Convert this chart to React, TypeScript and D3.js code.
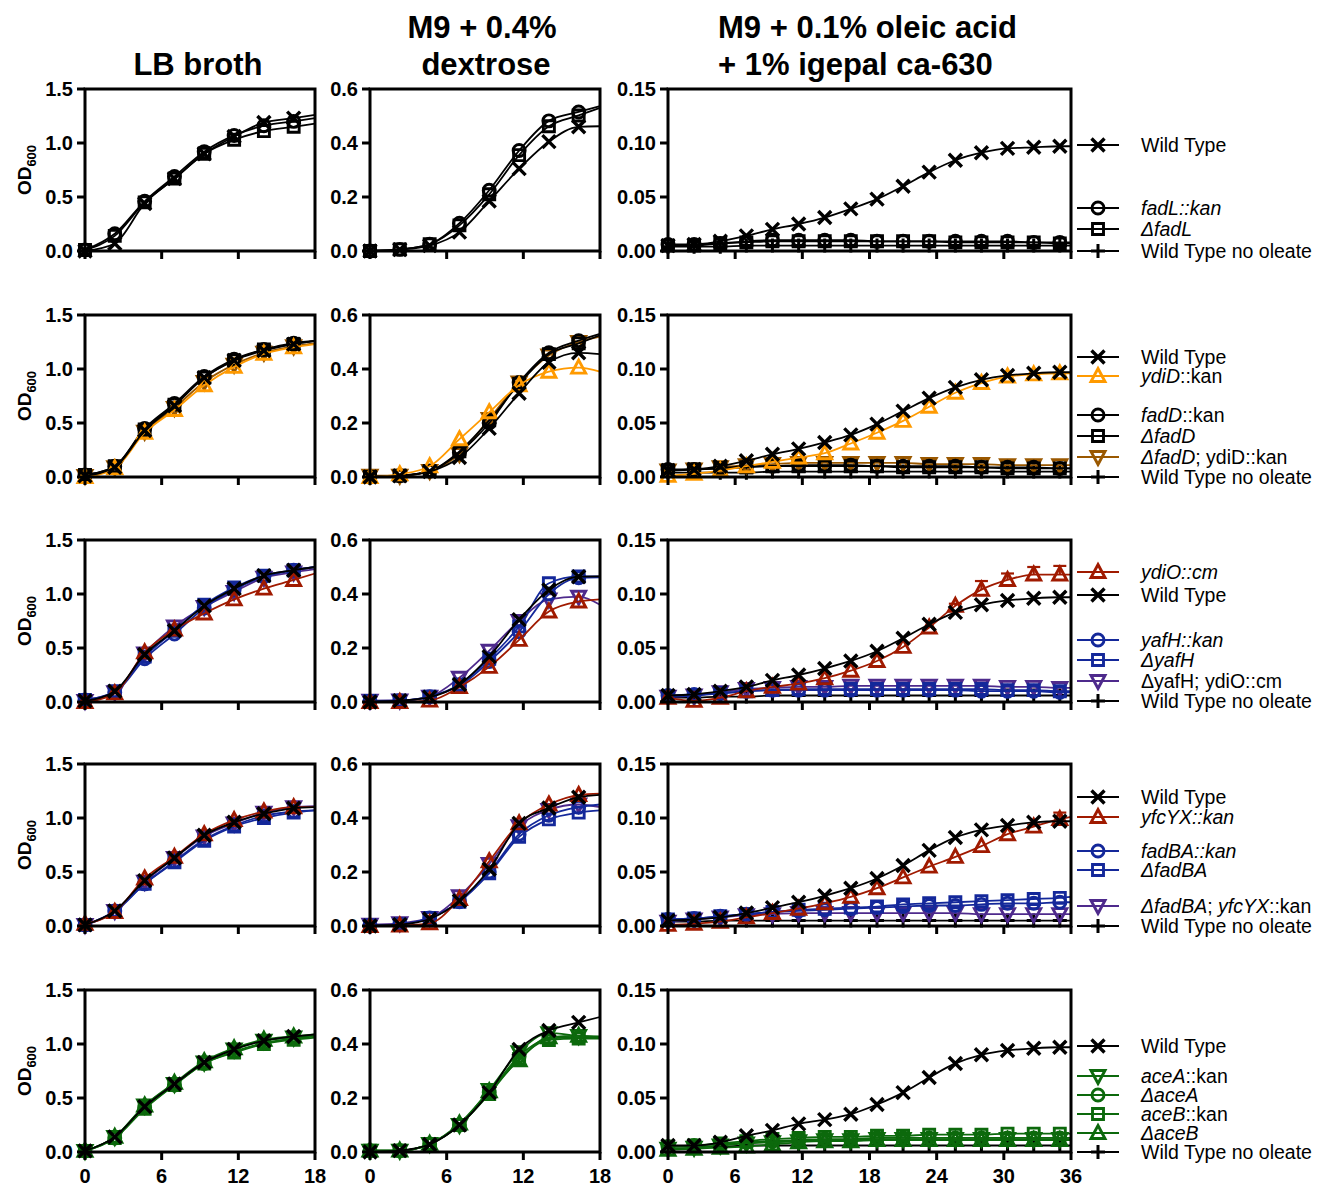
import React from "react";
import * as d3 from "d3";

// ---------- time points (hours) ----------
const hoursShort = [0, 2.33, 4.67, 7, 9.33, 11.67, 14, 16.33];
const hoursLong = [0, 2.33, 4.67, 7, 9.33, 11.67, 14, 16.33, 18.67, 21, 23.33, 25.67, 28, 30.33, 32.67, 35];
// Each series: one value per time point, followed by the fitted curve's value at the axis end.

// ---------- column settings ----------
const colXMax = [18, 18, 36];
const colXTicks = [[0, 6, 12, 18], [0, 6, 12, 18], [0, 6, 12, 18, 24, 30, 36]];
const colYMax = [1.5, 0.6, 0.15];
const colYTicks = [[0, 0.5, 1.0, 1.5], [0, 0.2, 0.4, 0.6], [0, 0.05, 0.1, 0.15]];
const colYFormat = [".1f", ".1f", ".2f"];

// ---------- colours ----------
const BLACK = "#000000";
const ORANGE = "#FF9A00";
const BROWN = "#9A5800";
const RED = "#A01A00";
const BLUE = "#14289A";
const PURPLE = "#4E2A8C";
const GREEN = "#0C690C";

// ---------- series definitions ----------
const row1Series = [
  { key: "wt", label: "Wild Type", color: BLACK, marker: "x" },
  { key: "fadL", label: "*fadL::kan*", color: BLACK, marker: "circle" },
  { key: "dfadL", label: "*ΔfadL*", color: BLACK, marker: "square" },
  { key: "wtNo", label: "Wild Type no oleate", color: BLACK, marker: "plus" },
];
const row2Series = [
  { key: "wt", label: "Wild Type", color: BLACK, marker: "x" },
  { key: "ydiD", label: "*ydiD*::kan", color: ORANGE, marker: "triangle" },
  { key: "fadD", label: "*fadD*::kan", color: BLACK, marker: "circle" },
  { key: "dfadD", label: "*ΔfadD*", color: BLACK, marker: "square" },
  { key: "dfadDydiD", label: "*ΔfadD*; ydiD::kan", color: BROWN, marker: "invTriangle" },
  { key: "wtNo", label: "Wild Type no oleate", color: BLACK, marker: "plus" },
];
const row3Series = [
  { key: "ydiO", label: "*ydiO::cm*", color: RED, marker: "triangle" },
  { key: "wt", label: "Wild Type", color: BLACK, marker: "x" },
  { key: "yafH", label: "*yafH::kan*", color: BLUE, marker: "circle" },
  { key: "dyafH", label: "*ΔyafH*", color: BLUE, marker: "square" },
  { key: "dyafHydiO", label: "ΔyafH; ydiO::cm", color: PURPLE, marker: "invTriangle" },
  { key: "wtNo", label: "Wild Type no oleate", color: BLACK, marker: "plus" },
];
const row4Series = [
  { key: "wt", label: "Wild Type", color: BLACK, marker: "x" },
  { key: "yfcYX", label: "*yfcYX::kan*", color: RED, marker: "triangle" },
  { key: "fadBA", label: "*fadBA::kan*", color: BLUE, marker: "circle" },
  { key: "dfadBA", label: "*ΔfadBA*", color: BLUE, marker: "square" },
  { key: "dfadBAyfcYX", label: "*ΔfadBA*; *yfcYX*::kan", color: PURPLE, marker: "invTriangle" },
  { key: "wtNo", label: "Wild Type no oleate", color: BLACK, marker: "plus" },
];
const row5Series = [
  { key: "wt", label: "Wild Type", color: BLACK, marker: "x" },
  { key: "aceA", label: "*aceA*::kan", color: GREEN, marker: "invTriangle" },
  { key: "daceA", label: "*ΔaceA*", color: GREEN, marker: "circle" },
  { key: "aceB", label: "*aceB*::kan", color: GREEN, marker: "square" },
  { key: "daceB", label: "*ΔaceB*", color: GREEN, marker: "triangle" },
  { key: "wtNo", label: "Wild Type no oleate", color: BLACK, marker: "plus" },
];

// ---------- row 1 ----------
const lb1 = {
  wt: [0.0, 0.07, 0.44, 0.67, 0.9, 1.06, 1.19, 1.23, 1.26],
  fadL: [0.01, 0.16, 0.46, 0.69, 0.92, 1.07, 1.16, 1.2, 1.23],
  dfadL: [0.01, 0.14, 0.45, 0.67, 0.9, 1.03, 1.11, 1.15, 1.18],
};
const dex1 = {
  wt: [0.0, 0.005, 0.02, 0.07, 0.185, 0.305, 0.405, 0.46, 0.462],
  fadL: [0.0, 0.006, 0.025, 0.103, 0.225, 0.372, 0.482, 0.515, 0.537],
  dfadL: [0.0, 0.006, 0.025, 0.095, 0.21, 0.355, 0.462, 0.502, 0.53],
};
const ole1 = {
  wt: [0.005, 0.006, 0.009, 0.014, 0.02, 0.025, 0.031, 0.039, 0.048, 0.06, 0.073, 0.084, 0.091, 0.095, 0.096, 0.097, 0.097],
  fadL: [0.006, 0.006, 0.007, 0.009, 0.01, 0.01, 0.01, 0.01, 0.009, 0.009, 0.009, 0.009, 0.009, 0.009, 0.008, 0.008, 0.008],
  dfadL: [0.005, 0.005, 0.007, 0.008, 0.009, 0.009, 0.009, 0.009, 0.009, 0.009, 0.009, 0.008, 0.008, 0.008, 0.008, 0.007, 0.007],
  wtNo: [0.004, 0.004, 0.004, 0.005, 0.005, 0.005, 0.005, 0.005, 0.005, 0.005, 0.005, 0.005, 0.005, 0.005, 0.005, 0.005, 0.005],
};

// ---------- row 2 ----------
const lb2 = {
  wt: [0.01, 0.09, 0.43, 0.66, 0.92, 1.08, 1.17, 1.23, 1.26],
  ydiD: [0.0, 0.08, 0.41, 0.62, 0.85, 1.02, 1.14, 1.2, 1.23],
  fadD: [0.02, 0.1, 0.45, 0.68, 0.93, 1.09, 1.18, 1.24, 1.26],
  dfadD: [0.02, 0.1, 0.44, 0.67, 0.92, 1.08, 1.18, 1.23, 1.26],
  dfadDydiD: [0.01, 0.09, 0.42, 0.64, 0.88, 1.04, 1.15, 1.21, 1.24],
};
const dex2 = {
  wt: [0.0, 0.004, 0.02, 0.072, 0.18, 0.31, 0.425, 0.46, 0.455],
  ydiD: [0.0, 0.01, 0.04, 0.14, 0.24, 0.34, 0.39, 0.405, 0.39],
  fadD: [0.0, 0.005, 0.022, 0.09, 0.2, 0.35, 0.46, 0.505, 0.53],
  dfadD: [0.0, 0.005, 0.022, 0.095, 0.21, 0.345, 0.455, 0.495, 0.525],
  dfadDydiD: [0.005, 0.005, 0.022, 0.085, 0.215, 0.35, 0.45, 0.5, 0.52],
};
const ole2 = {
  wt: [0.006, 0.007, 0.01, 0.015, 0.021, 0.026, 0.032, 0.039, 0.049, 0.061, 0.073, 0.083, 0.09, 0.094, 0.096, 0.097, 0.097],
  ydiD: [0.001, 0.003, 0.006, 0.01, 0.014, 0.018, 0.022, 0.031, 0.041, 0.052, 0.065, 0.078, 0.087, 0.093, 0.095, 0.096, 0.096],
  fadD: [0.007, 0.007, 0.008, 0.01, 0.01, 0.011, 0.011, 0.011, 0.01, 0.01, 0.01, 0.01, 0.009, 0.009, 0.009, 0.008, 0.008],
  dfadD: [0.006, 0.007, 0.008, 0.009, 0.01, 0.01, 0.01, 0.01, 0.01, 0.009, 0.009, 0.009, 0.009, 0.008, 0.008, 0.008, 0.008],
  dfadDydiD: [0.006, 0.007, 0.009, 0.011, 0.012, 0.013, 0.013, 0.013, 0.013, 0.013, 0.012, 0.012, 0.012, 0.011, 0.011, 0.011, 0.011],
  wtNo: [0.004, 0.004, 0.004, 0.004, 0.005, 0.005, 0.005, 0.005, 0.005, 0.005, 0.005, 0.005, 0.005, 0.005, 0.005, 0.005, 0.005],
};

// ---------- row 3 ----------
const lb3 = {
  ydiO: [0.0, 0.08, 0.46, 0.67, 0.82, 0.95, 1.05, 1.13, 1.19],
  wt: [0.01, 0.1, 0.44, 0.66, 0.89, 1.05, 1.17, 1.22, 1.25],
  yafH: [0.02, 0.09, 0.4, 0.63, 0.87, 1.04, 1.16, 1.22, 1.25],
  dyafH: [0.02, 0.1, 0.42, 0.66, 0.9, 1.06, 1.17, 1.22, 1.25],
  dyafHydiO: [0.01, 0.09, 0.45, 0.7, 0.88, 1.02, 1.15, 1.2, 1.23],
};
const dex3 = {
  ydiO: [0.0, 0.0, 0.005, 0.055, 0.13, 0.23, 0.335, 0.372, 0.38],
  wt: [0.0, 0.005, 0.018, 0.065, 0.168, 0.305, 0.415, 0.464, 0.465],
  yafH: [0.002, 0.005, 0.02, 0.06, 0.15, 0.26, 0.4, 0.46, 0.462],
  dyafH: [0.004, 0.005, 0.02, 0.065, 0.16, 0.28, 0.44, 0.465, 0.465],
  dyafHydiO: [0.005, 0.006, 0.02, 0.09, 0.19, 0.3, 0.38, 0.39, 0.36],
};
const ole3 = {
  ydiO: [0.004, 0.001, 0.004, 0.01, 0.014, 0.017, 0.022, 0.029, 0.038, 0.051, 0.069, 0.089, 0.104, 0.113, 0.118, 0.118, 0.118],
  wt: [0.006, 0.007, 0.01, 0.014, 0.02, 0.025, 0.031, 0.038, 0.047, 0.059, 0.072, 0.083, 0.09, 0.094, 0.096, 0.097, 0.097],
  yafH: [0.006, 0.007, 0.008, 0.01, 0.011, 0.011, 0.011, 0.011, 0.011, 0.011, 0.011, 0.011, 0.01, 0.01, 0.01, 0.009, 0.009],
  dyafH: [0.005, 0.006, 0.008, 0.01, 0.011, 0.012, 0.012, 0.012, 0.012, 0.012, 0.012, 0.012, 0.012, 0.011, 0.011, 0.01, 0.01],
  dyafHydiO: [0.005, 0.006, 0.009, 0.012, 0.013, 0.014, 0.014, 0.015, 0.015, 0.015, 0.015, 0.015, 0.015, 0.014, 0.014, 0.013, 0.013],
  wtNo: [0.004, 0.004, 0.005, 0.005, 0.006, 0.006, 0.006, 0.006, 0.006, 0.006, 0.006, 0.006, 0.006, 0.006, 0.006, 0.006, 0.006],
};
const ole3Err = {
  ydiO: [0, 0, 0, 0, 0, 0, 0, 0, 0, 0, 0, 0.002, 0.008, 0.006, 0.007, 0.008],
};

// ---------- row 4 ----------
const lb4 = {
  wt: [0.01, 0.14, 0.42, 0.63, 0.84, 0.96, 1.04, 1.09, 1.1],
  yfcYX: [0.02, 0.13, 0.44, 0.64, 0.85, 0.98, 1.06, 1.1, 1.1],
  fadBA: [0.01, 0.14, 0.39, 0.6, 0.8, 0.93, 1.02, 1.06, 1.07],
  dfadBA: [0.01, 0.13, 0.39, 0.59, 0.79, 0.92, 1.0, 1.05, 1.07],
  dfadBAyfcYX: [0.01, 0.14, 0.41, 0.63, 0.83, 0.95, 1.05, 1.1, 1.11],
};
const dex4 = {
  wt: [0.0, 0.005, 0.026, 0.093, 0.21, 0.38, 0.437, 0.477, 0.486],
  yfcYX: [0.0, 0.002, 0.01, 0.1, 0.24, 0.38, 0.45, 0.485, 0.49],
  fadBA: [0.002, 0.006, 0.03, 0.09, 0.2, 0.34, 0.41, 0.44, 0.45],
  dfadBA: [0.002, 0.006, 0.03, 0.09, 0.195, 0.33, 0.395, 0.42, 0.428],
  dfadBAyfcYX: [0.005, 0.01, 0.03, 0.11, 0.23, 0.37, 0.43, 0.45, 0.44],
};
const ole4 = {
  wt: [0.005, 0.006, 0.008, 0.012, 0.017, 0.022, 0.028, 0.035, 0.044, 0.056, 0.07, 0.082, 0.089, 0.093, 0.096, 0.097, 0.097],
  yfcYX: [0.001, 0.002, 0.004, 0.008, 0.012, 0.016, 0.021, 0.027, 0.035, 0.045, 0.055, 0.064, 0.074, 0.085, 0.092, 0.099, 0.101],
  fadBA: [0.006, 0.007, 0.009, 0.011, 0.013, 0.014, 0.015, 0.016, 0.017, 0.018, 0.019, 0.019, 0.02, 0.021, 0.021, 0.022, 0.022],
  dfadBA: [0.006, 0.007, 0.009, 0.011, 0.013, 0.015, 0.016, 0.017, 0.018, 0.02, 0.021, 0.022, 0.023, 0.024, 0.025, 0.026, 0.027],
  dfadBAyfcYX: [0.004, 0.006, 0.008, 0.01, 0.011, 0.012, 0.012, 0.012, 0.012, 0.012, 0.012, 0.012, 0.011, 0.011, 0.011, 0.011, 0.011],
  wtNo: [0.004, 0.004, 0.005, 0.005, 0.005, 0.005, 0.005, 0.005, 0.005, 0.005, 0.005, 0.005, 0.005, 0.005, 0.005, 0.005, 0.005],
};
const ole4Err = {
  yfcYX: [0, 0, 0, 0, 0, 0, 0, 0, 0, 0, 0, 0, 0, 0, 0.002, 0.006],
};

// ---------- row 5 ----------
const lb5 = {
  wt: [0.01, 0.14, 0.42, 0.63, 0.83, 0.95, 1.03, 1.07, 1.09],
  aceA: [0.01, 0.14, 0.43, 0.63, 0.83, 0.95, 1.03, 1.06, 1.08],
  daceA: [0.01, 0.13, 0.41, 0.62, 0.82, 0.93, 1.01, 1.05, 1.07],
  aceB: [0.01, 0.13, 0.4, 0.62, 0.82, 0.92, 1.0, 1.04, 1.06],
  daceB: [0.01, 0.14, 0.43, 0.64, 0.84, 0.96, 1.04, 1.07, 1.09],
};
const dex5 = {
  wt: [0.0, 0.005, 0.028, 0.1, 0.22, 0.38, 0.45, 0.48, 0.5],
  aceA: [0.005, 0.005, 0.03, 0.1, 0.23, 0.37, 0.44, 0.43, 0.425],
  daceA: [0.005, 0.005, 0.03, 0.1, 0.22, 0.355, 0.42, 0.425, 0.425],
  aceB: [0.005, 0.005, 0.03, 0.1, 0.215, 0.345, 0.415, 0.42, 0.42],
  daceB: [0.005, 0.005, 0.03, 0.105, 0.225, 0.34, 0.425, 0.43, 0.428],
};
const ole5 = {
  wt: [0.006, 0.006, 0.009, 0.015, 0.02, 0.026, 0.03, 0.035, 0.044, 0.055, 0.069, 0.082, 0.09, 0.094, 0.096, 0.097, 0.097],
  aceA: [0.003, 0.004, 0.006, 0.008, 0.009, 0.01, 0.011, 0.011, 0.012, 0.012, 0.012, 0.012, 0.012, 0.012, 0.012, 0.012, 0.012],
  daceA: [0.005, 0.006, 0.007, 0.009, 0.01, 0.011, 0.012, 0.012, 0.013, 0.013, 0.013, 0.013, 0.013, 0.013, 0.013, 0.013, 0.013],
  aceB: [0.005, 0.006, 0.008, 0.01, 0.012, 0.013, 0.014, 0.014, 0.015, 0.015, 0.016, 0.016, 0.016, 0.017, 0.017, 0.017, 0.017],
  daceB: [0.002, 0.003, 0.004, 0.005, 0.007, 0.009, 0.01, 0.01, 0.011, 0.011, 0.011, 0.011, 0.011, 0.011, 0.011, 0.011, 0.011],
  wtNo: [0.005, 0.005, 0.005, 0.006, 0.006, 0.006, 0.006, 0.006, 0.006, 0.006, 0.006, 0.006, 0.006, 0.006, 0.006, 0.006, 0.006],
};

// ---------- layout (pixels) ----------
const colRange = [[85, 315], [370, 600], [668, 1071]];
const rowTops = [89, 315, 540, 764, 990];
const PANEL_H = 162;
// legend entry heights above each row's bottom edge
const legendOffsets = [
  [106, 43, 22, 0],
  [120, 101, 62, 41, 20, 0],
  [130, 107, 62, 42, 21, 1],
  [129, 109, 75, 56, 20, 0],
  [106, 76, 57, 38, 19, 0],
];

const rows = [
  { series: row1Series, data: [lb1, dex1, ole1], err: {} },
  { series: row2Series, data: [lb2, dex2, ole2], err: {} },
  { series: row3Series, data: [lb3, dex3, ole3], err: ole3Err },
  { series: row4Series, data: [lb4, dex4, ole4], err: ole4Err },
  { series: row5Series, data: [lb5, dex5, ole5], err: {} },
];

const FONT = "'Liberation Sans', Arial, Helvetica, sans-serif";

function markerPath(m: string): string {
  switch (m) {
    case "circle":
      return "M-6,0a6,6 0 1,0 12,0a6,6 0 1,0 -12,0Z";
    case "square":
      return "M-5.5,-5.5H5.5V5.5H-5.5Z";
    case "triangle":
      return "M0,-7.5L7,5.5L-7,5.5Z";
    case "invTriangle":
      return "M0,7.5L7,-5.5L-7,-5.5Z";
    case "x":
      return "M-6.5,-6.5L6.5,6.5M6.5,-6.5L-6.5,6.5";
    case "plus":
      return "M-7,0H7M0,-7V7";
  }
  return "";
}

function Marker({ m, color, x, y }: any) {
  return (
    <path
      d={markerPath(m)}
      transform={`translate(${x},${y})`}
      fill="none"
      stroke={color}
      strokeWidth={m === "x" ? 3.4 : m === "plus" ? 3 : 2.9}
      strokeLinejoin="miter"
    />
  );
}

function RichLabel({ label, x, y }: any) {
  const parts = label.split("*");
  return (
    <text x={x} y={y} dy="0.36em" fontFamily={FONT} fontSize={19.5} fill="#000">
      {parts.map((p: string, i: number) =>
        p ? (
          <tspan key={i} fontStyle={i % 2 === 1 ? "italic" : "normal"}>
            {p}
          </tspan>
        ) : null
      )}
    </text>
  );
}

function Panel({ rowIdx, colIdx }: any) {
  const row = rows[rowIdx];
  const [x0, x1] = colRange[colIdx];
  const top = rowTops[rowIdx];
  const bottom = top + PANEL_H;
  const xMax = colXMax[colIdx];
  const yMax = colYMax[colIdx];
  const xs = d3.scaleLinear().domain([0, xMax]).range([x0, x1]);
  const ys = d3.scaleLinear().domain([0, yMax]).range([bottom, top]);
  const times = colIdx === 2 ? hoursLong : hoursShort;
  const data: any = row.data[colIdx];
  const errs: any = colIdx === 2 ? row.err : {};
  const fmt = d3.format(colYFormat[colIdx]);
  const line = d3
    .line<[number, number]>()
    .x((d) => xs(d[0]))
    .y((d) => ys(d[1]))
    .curve(d3.curveMonotoneX);

  const order = [...row.series].filter((s) => s.key !== "wt").reverse();
  const wt = row.series.find((s) => s.key === "wt");
  if (wt) order.push(wt);

  return (
    <g>
      {order.map((s) => {
        const v: number[] = data[s.key];
        if (!v) return null;
        const pts: [number, number][] = times.map((t, i) => [t, v[i]]);
        pts.push([xMax, v[times.length]]);
        const e: number[] | undefined = errs[s.key];
        return (
          <g key={s.key}>
            <path d={line(pts) || ""} fill="none" stroke={s.color} strokeWidth={1.8} />
            {e &&
              times.map((t, i) =>
                e[i] > 0 ? (
                  <g key={"e" + i} stroke={s.color} strokeWidth={2.2}>
                    <line x1={xs(t)} x2={xs(t)} y1={ys(v[i])} y2={ys(v[i] + e[i])} />
                    <line x1={xs(t) - 6.5} x2={xs(t) + 6.5} y1={ys(v[i] + e[i])} y2={ys(v[i] + e[i])} />
                  </g>
                ) : null
              )}
            {times.map((t, i) => (
              <Marker key={i} m={s.marker} color={s.color} x={xs(t)} y={ys(v[i])} />
            ))}
          </g>
        );
      })}
      {/* frame */}
      <rect x={x0} y={top} width={x1 - x0} height={PANEL_H} fill="none" stroke="#000" strokeWidth={3} />
      {/* y ticks */}
      {colYTicks[colIdx].map((t) => (
        <g key={"y" + t}>
          <line x1={x0 - 8} x2={x0} y1={ys(t)} y2={ys(t)} stroke="#000" strokeWidth={3} />
          <text
            x={x0 - 12}
            y={ys(t)}
            dy="0.36em"
            textAnchor="end"
            fontFamily={FONT}
            fontWeight="bold"
            fontSize={20}
          >
            {fmt(t)}
          </text>
        </g>
      ))}
      {/* x ticks */}
      {colXTicks[colIdx].map((t) => (
        <g key={"x" + t}>
          <line x1={xs(t)} x2={xs(t)} y1={bottom} y2={bottom + 8} stroke="#000" strokeWidth={3} />
          {rowIdx === rows.length - 1 && (
            <text
              x={xs(t)}
              y={bottom + 31}
              textAnchor="middle"
              fontFamily={FONT}
              fontWeight="bold"
              fontSize={20}
            >
              {t}
            </text>
          )}
        </g>
      ))}
    </g>
  );
}

function Legend({ rowIdx }: any) {
  const row = rows[rowIdx];
  const bottom = rowTops[rowIdx] + PANEL_H;
  return (
    <g>
      {row.series.map((s, i) => {
        const y = bottom - legendOffsets[rowIdx][i];
        return (
          <g key={s.key}>
            <line x1={1077} x2={1119} y1={y} y2={y} stroke={s.color} strokeWidth={1.8} />
            <Marker m={s.marker} color={s.color} x={1098} y={y} />
            <RichLabel label={s.label} x={1141} y={y} />
          </g>
        );
      })}
    </g>
  );
}

export default function App() {
  return (
    <svg
      width={1333}
      height={1188}
      style={{ position: "absolute", left: 0, top: 0, background: "#fff" }}
    >
      <rect width={1333} height={1188} fill="#fff" />
      {/* column titles */}
      <g fontFamily={FONT} fontWeight="bold" fontSize={31}>
        <text x={198} y={75} textAnchor="middle">LB broth</text>
        <text x={482} y={38} textAnchor="middle">M9 + 0.4%</text>
        <text x={486} y={75} textAnchor="middle">dextrose</text>
        <text x={718} y={38}>M9 + 0.1% oleic acid</text>
        <text x={718} y={75}>+ 1% igepal ca-630</text>
      </g>
      {rows.map((_, r) => (
        <g key={r}>
          <text
            transform={`translate(31,${rowTops[r] + PANEL_H / 2}) rotate(-90)`}
            textAnchor="middle"
            fontFamily={FONT}
            fontWeight="bold"
            fontSize={19}
          >
            OD<tspan fontSize={13} dy={5}>600</tspan>
          </text>
          {[0, 1, 2].map((c) => (
            <Panel key={c} rowIdx={r} colIdx={c} />
          ))}
          <Legend rowIdx={r} />
        </g>
      ))}
    </svg>
  );
}
